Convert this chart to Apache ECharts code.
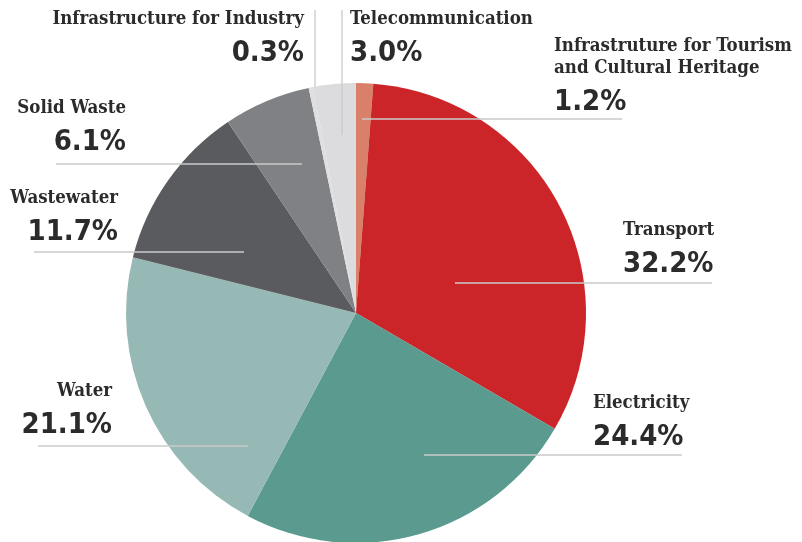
<!DOCTYPE html>
<html lang="en">
<head>
<meta charset="utf-8">
<script src="https://cdn.jsdelivr.net/npm/echarts@6/dist/echarts.min.js"></script>
<style>
    html, body {margin: 0; padding: 0; background: #fff;}
    #chart {width: 802px; height: 542px;}
</style>
</head>
<body>
<div id="chart"></div>
<script>
    // slices, clockwise from 12 o'clock
    var sectors = ['Infrastruture for Tourism\nand Cultural Heritage', 'Transport', 'Electricity', 'Water',
        'Wastewater', 'Solid Waste', 'Infrastructure for Industry', 'Telecommunication'];
    var shares = [1.2, 32.2, 24.4, 21.1, 11.7, 6.1, 0.3, 3.0];
    var colors = ['#d9806a', '#cc2529', '#5a9a8f', '#97b9b5', '#5a5b5f', '#808184', '#dfdfe1', '#dcdcde'];

    // label placement: [anchor x, top y, align, leader line [x1, y1, x2, y2]]
    var labelPos = [
        [554, 35, 'left', [362, 119, 622, 119]],
        [623, 219, 'left', [455, 283, 712, 283]],
        [593, 392, 'left', [424, 455, 682, 455]],
        [112, 380, 'right', [38, 446, 248, 446]],
        [118, 187, 'right', [34, 252, 244, 252]],
        [126, 97, 'right', [56, 164, 302, 164]],
        [304, 8, 'right', [315, 10, 315, 87]],
        [350, 8, 'left', [342, 10, 342, 135]]
    ];

    var data = sectors.map(function (s, i) {
        return {name: s, value: shares[i], itemStyle: {color: colors[i]}};
    });

    var chart = echarts.init(document.getElementById('chart'));
    var base = {
        type: 'pie',
        center: [356, 313],
        radius: 230,
        startAngle: 90,
        clockwise: true,
        silent: true
    };
    chart.setOption({
        animation: false,
        series: [
            // coloured slices
            Object.assign({}, base, {
                data: data,
                z: 2,
                itemStyle: {borderWidth: 0},
                label: {show: false},
                labelLine: {show: false}
            }),
            // same slices, transparent, carrying labels and leader lines above the pie
            Object.assign({}, base, {
                data: sectors.map(function (s, i) { return {name: s, value: shares[i]}; }),
                z: 5,
                itemStyle: {color: 'rgba(0,0,0,0)', borderWidth: 0},
                label: {
                    show: true,
                    position: 'outer',
                    overflow: 'none',
                    formatter: function (p) {
                        return '{n|' + p.name + '}\n{p|' + p.value.toFixed(1) + '%}';
                    },
                    rich: {
                        n: {fontFamily: 'DejaVu Serif Condensed', fontWeight: 'bold', fontSize: 18.5, lineHeight: 22, color: '#2b2b2b'},
                        p: {fontFamily: 'DejaVu Sans Condensed', fontWeight: 'bold', fontSize: 29, lineHeight: 46, color: '#2b2b2b'}
                    }
                },
                labelLine: {
                    show: true,
                    lineStyle: {color: '#cacaca', width: 1.3}
                },
                labelLayout: function (params) {
                    var lp = labelPos[params.dataIndex];
                    var l = lp[3];
                    return {
                        x: lp[0],
                        y: lp[1],
                        align: lp[2],
                        verticalAlign: 'top',
                        labelLinePoints: [[l[0], l[1]], [l[2], l[3]], [l[2], l[3]]]
                    };
                }
            })
        ]
    });
</script>
</body>
</html>
